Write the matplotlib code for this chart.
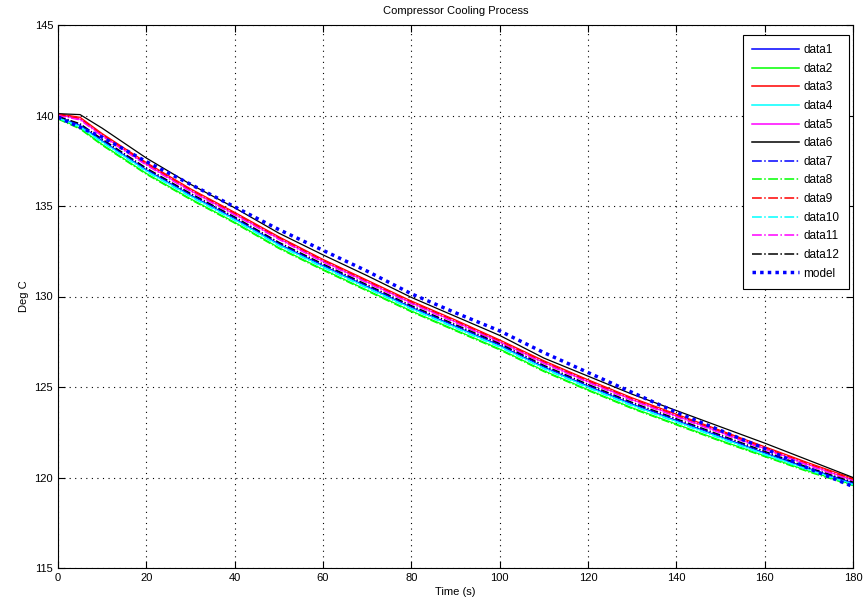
import matplotlib
matplotlib.use("Agg")
import matplotlib.pyplot as plt

plt.rcParams["font.family"] = ["Liberation Sans Narrow", "Liberation Sans", "DejaVu Sans"]
plt.rcParams["font.size"] = 8

# time samples (s)
time = [0, 5, 10, 20, 30, 40, 50, 60, 70, 80, 90, 100, 110, 120, 130, 140, 150, 160, 170, 180]

data1 = [139.9, 139.45, 138.6, 137.0, 135.6, 134.3, 132.9, 131.7, 130.55, 129.4, 128.35, 127.3, 126.1, 125.05, 124.05, 123.15, 122.25, 121.35, 120.5, 119.7]
data2 = [139.85, 139.3, 138.4, 136.8, 135.4, 134.1, 132.7, 131.5, 130.35, 129.2, 128.15, 127.1, 125.9, 124.85, 123.85, 122.95, 122.05, 121.2, 120.35, 119.6]
data3 = [140.1, 139.9, 139.0, 137.4, 135.95, 134.65, 133.3, 132.05, 130.9, 129.75, 128.7, 127.6, 126.45, 125.4, 124.4, 123.5, 122.6, 121.7, 120.8, 119.95]
data4 = [139.9, 139.4, 138.55, 136.95, 135.55, 134.25, 132.85, 131.65, 130.5, 129.35, 128.3, 127.25, 126.05, 125.0, 124.0, 123.1, 122.2, 121.3, 120.45, 119.65]
data5 = [140.05, 139.8, 138.9, 137.3, 135.85, 134.55, 133.2, 131.95, 130.8, 129.65, 128.6, 127.5, 126.35, 125.3, 124.3, 123.4, 122.5, 121.6, 120.7, 119.85]
data6 = [140.1, 140.05, 139.3, 137.65, 136.2, 134.9, 133.5, 132.3, 131.15, 129.95, 128.9, 127.85, 126.6, 125.6, 124.6, 123.7, 122.8, 121.9, 120.95, 120.0]
data7 = [139.95, 139.5, 138.65, 137.05, 135.65, 134.35, 132.95, 131.75, 130.6, 129.45, 128.4, 127.35, 126.15, 125.1, 124.1, 123.2, 122.3, 121.4, 120.5, 119.7]
data8 = [139.8, 139.25, 138.35, 136.75, 135.35, 134.05, 132.65, 131.45, 130.3, 129.15, 128.1, 127.05, 125.85, 124.8, 123.8, 122.9, 122.0, 121.15, 120.3, 119.55]
data9 = [140.05, 139.85, 138.95, 137.35, 135.9, 134.6, 133.25, 132.0, 130.85, 129.7, 128.65, 127.55, 126.4, 125.35, 124.35, 123.45, 122.55, 121.65, 120.75, 119.9]
data10 = [139.85, 139.35, 138.5, 136.9, 135.5, 134.2, 132.8, 131.6, 130.45, 129.3, 128.25, 127.2, 126.0, 124.95, 123.95, 123.05, 122.15, 121.25, 120.4, 119.6]
data11 = [140.0, 139.75, 138.85, 137.25, 135.8, 134.5, 133.15, 131.9, 130.75, 129.6, 128.55, 127.45, 126.3, 125.25, 124.25, 123.35, 122.45, 121.55, 120.65, 119.8]
data12 = [139.95, 139.55, 138.7, 137.1, 135.7, 134.4, 133.0, 131.8, 130.65, 129.5, 128.45, 127.4, 126.2, 125.15, 124.15, 123.25, 122.35, 121.45, 120.55, 119.75]
model = [139.9, 139.35, 138.8, 137.45, 136.2, 134.95, 133.7, 132.55, 131.4, 130.15, 129.1, 128.1, 126.9, 125.8, 124.7, 123.6, 122.6, 121.6, 120.5, 119.5]

series = [data1, data2, data3, data4, data5, data6, data7, data8, data9, data10, data11, data12]
labels = ["data" + str(i + 1) for i in range(12)]
colors = ["#0000ff", "#00ff00", "#ff0000", "#00ffff", "#ff00ff", "#000000"] * 2
styles = ["-"] * 6 + ["-."] * 6

fig = plt.figure(figsize=(8.65, 6.04), dpi=100)
ax = fig.add_axes([58 / 865, 36 / 604, 795 / 865, 543 / 604])

for y, lab, c, ls in zip(series, labels, colors, styles):
    ax.plot(time, y, color=c, linestyle=ls, linewidth=0.9, label=lab)
ax.plot(time, model, color="#0000ff", linestyle=(0, (1, 1.2)), linewidth=2.5, label="model")

ax.set_xlim(0, 180)
ax.set_ylim(115, 145)
ax.set_xticks(range(0, 181, 20))
ax.set_yticks(range(115, 146, 5))
ax.grid(True, color="black", linestyle=(0, (1, 4)), linewidth=0.8)
ax.tick_params(direction="in", top=True, right=True, length=5, width=0.8)
for s in ax.spines.values():
    s.set_linewidth(0.8)

ax.set_title("Compressor Cooling Process", fontsize=8, pad=8)
ax.set_xlabel("Time (s)", fontsize=8, labelpad=3)
ax.set_ylabel("Deg C", fontsize=8, labelpad=4)

leg = ax.legend(loc="upper right", bbox_to_anchor=(0.995, 0.982), borderaxespad=0,
                fancybox=False, framealpha=1, edgecolor="black", fontsize=8.5,
                handlelength=4.0, labelspacing=0.56, borderpad=0.8, handletextpad=0.35)
leg.get_frame().set_linewidth(0.8)
for line in leg.get_lines()[:12]:
    line.set_linewidth(1.1)

fig.savefig("out.png", dpi=100, facecolor="white")
